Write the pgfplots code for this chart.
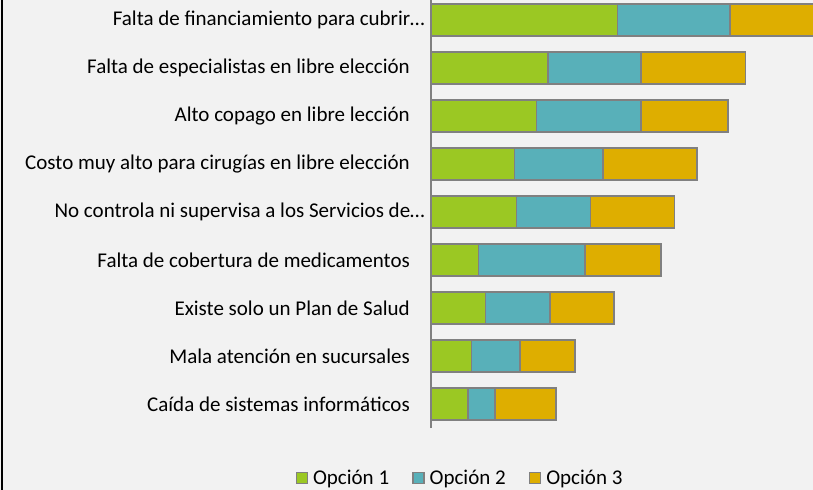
\documentclass[border=0pt]{standalone}
\usepackage{pgfplots}
\pgfplotsset{compat=1.18}
\usepackage{fontspec}
\setmainfont{Carlito}
\definecolor{bg}{RGB}{242,242,242}
\definecolor{cgreen}{RGB}{155,200,35}
\definecolor{cteal}{RGB}{88,176,185}
\definecolor{cgold}{RGB}{222,174,0}
\definecolor{cborder}{RGB}{128,128,128}
\begin{document}
\begin{tikzpicture}
\fill[bg] (0,0) rectangle (813bp,490bp);
\draw[black, line width=2bp] (2bp,0) -- (2bp,490bp);
\begin{axis}[
  at={(431bp,62bp)}, anchor=south west,
  scale only axis, width=382bp, height=432bp,
  xmin=0, xmax=382, ymin=-0.5, ymax=8.5,
  xbar stacked, bar width=32bp,
  axis x line=none,
  axis y line*=left,
  y axis line style={draw=cborder, line width=1.2bp},
  ytick={0,...,8},
  major tick length=0pt,
  yticklabels={
    Caída de sistemas informáticos,
    Mala atención en sucursales,
    Existe solo un Plan de Salud,
    Falta de cobertura de medicamentos,
    No controla ni supervisa a los Servicios de…\kern-15bp,
    Costo muy alto para cirugías en libre elección,
    Alto copago en libre lección,
    Falta de especialistas en libre elección,
    Falta de financiamiento para cubrir…\kern-15bp},
  yticklabel style={anchor=east, inner sep=0pt, xshift=-21bp, font=\fontsize{21bp}{25bp}\selectfont, text=black},
  every axis plot/.append style={draw=cborder, line width=1.5bp},
  legend columns=3,
  legend style={at={(axis description cs:0.0733,-0.1157)}, anchor=center,
    draw=none, fill=none, inner sep=0pt,
    nodes={inner sep=0pt},
    font=\fontsize{21bp}{25bp}\selectfont,
    /tikz/every odd column/.append style={column sep=5bp},
    /tikz/every even column/.append style={column sep=23bp}},
  legend image code/.code={\draw[#1, line width=1.5bp] (0bp,-5.5bp) rectangle (11bp,5.5bp);},
]
\addplot[fill=cgreen] coordinates {(37,0) (40.7,1) (54.7,2) (47.3,3) (85.3,4) (83.3,5) (105.7,6) (117,7) (186.5,8)};
\addplot[fill=cteal] coordinates {(27,0) (48.3,1) (64.3,2) (106.7,3) (74,4) (88.7,5) (104.3,6) (93,7) (112.5,8)};
\addplot[fill=cgold] coordinates {(61,0) (55,1) (64,2) (76,3) (84.4,4) (94,5) (87,6) (104.7,7) (100,8)};
\legend{Opción 1, Opción 2, Opción 3}
\end{axis}
\pgfresetboundingbox
\path[use as bounding box] (0,0) rectangle (813bp,490bp);
\end{tikzpicture}
\end{document}
